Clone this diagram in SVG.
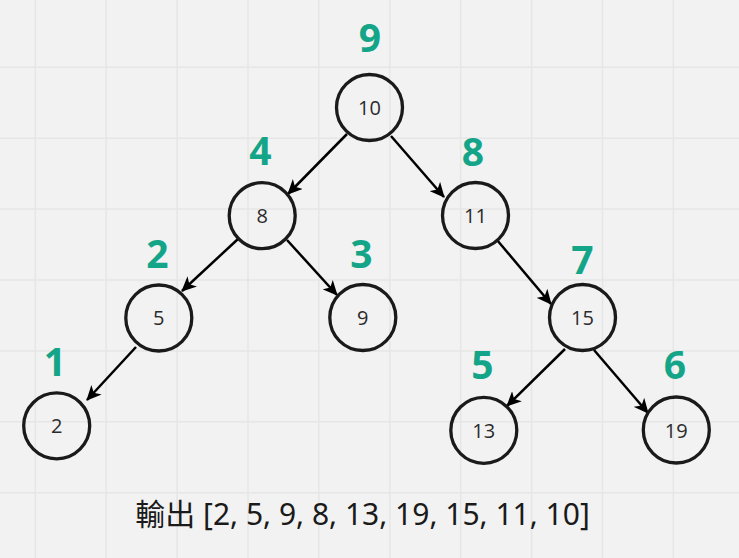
<svg xmlns="http://www.w3.org/2000/svg" width="739" height="558" viewBox="0 0 739 558">
<style>
.grid{stroke:#e6e6e6;stroke-width:1.5;fill:none}
.node circle{fill:none;stroke:#1a1a1a;stroke-width:3.3}
.node text{font-family:"Open Sans","Noto Sans",sans-serif;font-size:20px;fill:#2b2b2b;text-anchor:middle;dominant-baseline:central}
.order{font-family:"Open Sans","Noto Sans",sans-serif;font-weight:700;font-size:39px;fill:#14a589;text-anchor:middle}
.edge{stroke:#000;stroke-width:2.5;fill:none;marker-end:url(#arr)}
.out{font-family:"Noto Sans","Noto Sans CJK TC",sans-serif;font-size:30px;fill:#1a1a1a;text-anchor:middle}
</style>
<defs>
<marker id="arr" markerUnits="userSpaceOnUse" markerWidth="16" markerHeight="14" viewBox="0 0 16 14" refX="14" refY="7" orient="auto">
<path d="M0,0 L15,7 L0,14 L4,7 Z" fill="#000"/>
</marker>
</defs>
<rect width="739" height="558" fill="#f2f2f2"/>
<path class="grid" d="M35.3,0V558M106.2,0V558M177.1,0V558M248,0V558M318.9,0V558M389.8,0V558M460.7,0V558M531.6,0V558M602.5,0V558M673.4,0V558M0,67.3H739M0,138.2H739M0,209.1H739M0,280H739M0,350.9H739M0,421.8H739M0,492.7H739"/>
<g id="connectors">
<line class="edge" x1="347" y1="134" x2="288" y2="194"/>
<line class="edge" x1="391" y1="136" x2="444" y2="197"/>
<line class="edge" x1="238" y1="239" x2="182" y2="291"/>
<line class="edge" x1="287" y1="240" x2="337" y2="295"/>
<line class="edge" x1="497" y1="240" x2="551" y2="304"/>
<line class="edge" x1="136" y1="347" x2="87" y2="400"/>
<line class="edge" x1="565" y1="349" x2="507" y2="406"/>
<line class="edge" x1="594" y1="350" x2="648" y2="413"/>
</g>
<g id="n10" class="node"><circle cx="369.5" cy="107.5" r="33"/><text x="369.5" y="107">10</text></g>
<g id="n8" class="node"><circle cx="262.2" cy="215.7" r="33"/><text x="262.2" y="215">8</text></g>
<g id="n11" class="node"><circle cx="475.5" cy="215.5" r="33"/><text x="475.5" y="215">11</text></g>
<g id="n5" class="node"><circle cx="158.8" cy="318" r="33"/><text x="158.8" y="317">5</text></g>
<g id="n9" class="node"><circle cx="362.8" cy="317.5" r="33"/><text x="362.8" y="317">9</text></g>
<g id="n15" class="node"><circle cx="582.5" cy="317.5" r="33"/><text x="582.5" y="317">15</text></g>
<g id="n2" class="node"><circle cx="56.7" cy="425.8" r="33"/><text x="56.7" y="425">2</text></g>
<g id="n13" class="node"><circle cx="483.8" cy="430.3" r="33"/><text x="483.8" y="430">13</text></g>
<g id="n19" class="node"><circle cx="676.3" cy="430" r="33"/><text x="676.3" y="430">19</text></g>
<g id="orders">
<text class="order" x="370" y="52">9</text>
<text class="order" x="260.5" y="165">4</text>
<text class="order" x="473" y="166">8</text>
<text class="order" x="157.5" y="268">2</text>
<text class="order" x="361.5" y="268">3</text>
<text class="order" x="582.5" y="274">7</text>
<text class="order" x="55" y="376">1</text>
<text class="order" x="482.5" y="379">5</text>
<text class="order" x="675" y="379">6</text>
</g>
<text class="out" x="362.5" y="525">輸出 [2, 5, 9, 8, 13, 19, 15, 11, 10]</text>
</svg>
